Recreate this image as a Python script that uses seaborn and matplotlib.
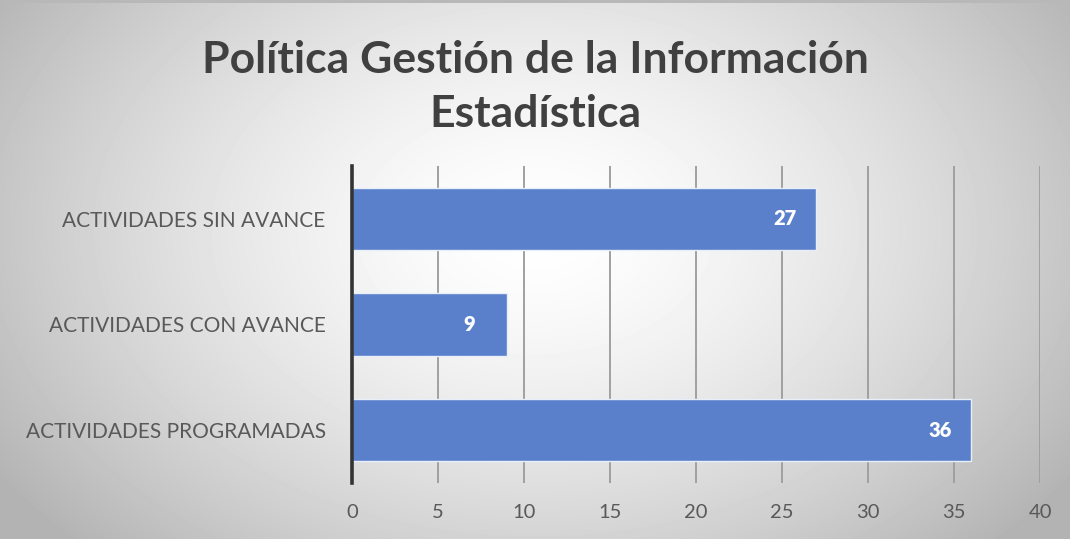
import numpy as np
import pandas as pd
import matplotlib
matplotlib.use("Agg")
import matplotlib.pyplot as plt
import seaborn as sns

# ========================
# DATA
# ========================
categorias = ["ACTIVIDADES SIN AVANCE", "ACTIVIDADES CON AVANCE", "ACTIVIDADES PROGRAMADAS"]
valores    = [27, 9, 36]
x_ticks    = [0, 5, 10, 15, 20, 25, 30, 35, 40]
titulo     = "Política Gestión de la Información\nEstadística"

df = pd.DataFrame({"categoria": categorias, "valor": valores})

# ========================
# STYLE
# ========================
sns.set_style("white")
plt.rcParams["font.family"] = ["Lato", "DejaVu Sans"]

BAR_COLOR  = "#5A80CC"
TEXT_COLOR = "#595959"

fig = plt.figure(figsize=(10.7, 5.39), dpi=100)

# radial gradient background
bg = fig.add_axes([0, 0, 1, 1], zorder=-10)
yy, xx = np.mgrid[0:539, 0:1070]
r = np.sqrt(((xx - 535) / 650.0) ** 2 + ((yy - 230) / 450.0) ** 2)
shade = 1.0 - 0.30 * np.clip(r, 0, 1) ** 1.5
shade[:3, :] = 0.72   # thin top border like the screenshot
bg.imshow(shade, cmap="gray", vmin=0, vmax=1, aspect="auto", extent=[0, 1, 0, 1])
bg.axis("off")

ax = fig.add_axes([0.329, 0.104, 0.643, 0.588])
ax.patch.set_alpha(0)

sns.barplot(data=df, x="valor", y="categoria", orient="h", color=BAR_COLOR,
            width=0.59, edgecolor="#e8eefa", linewidth=1.0, saturation=1, ax=ax, zorder=3)

ax.set_xlim(0, 40)
ax.set_ylim(2.5, -0.5)
ax.set_xticks(x_ticks)
ax.set_xticklabels([str(t) for t in x_ticks], fontsize=14.5, color=TEXT_COLOR)
ax.tick_params(axis="y", labelsize=15, labelcolor=TEXT_COLOR, length=0, pad=19)
ax.tick_params(axis="x", length=0, pad=15)
ax.set_xlabel("")
ax.set_ylabel("")

ax.grid(axis="x", color="#a0a0a0", linewidth=1.4, zorder=1)
ax.set_axisbelow(True)
for s in ["top", "right", "bottom"]:
    ax.spines[s].set_visible(False)
ax.spines["left"].set_color("#333333")
ax.spines["left"].set_linewidth(2.6)
ax.spines["left"].set_zorder(5)

for cont in ax.containers:
    ax.bar_label(cont, labels=[str(v) for v in valores], padding=-31,
                 color="white", fontsize=14.5, fontweight="heavy")

fig.text(0.5, 0.838, titulo, ha="center", va="center", fontsize=32,
         fontweight="bold", color="#404040", linespacing=1.42)

fig.savefig("out.png", dpi=100)
